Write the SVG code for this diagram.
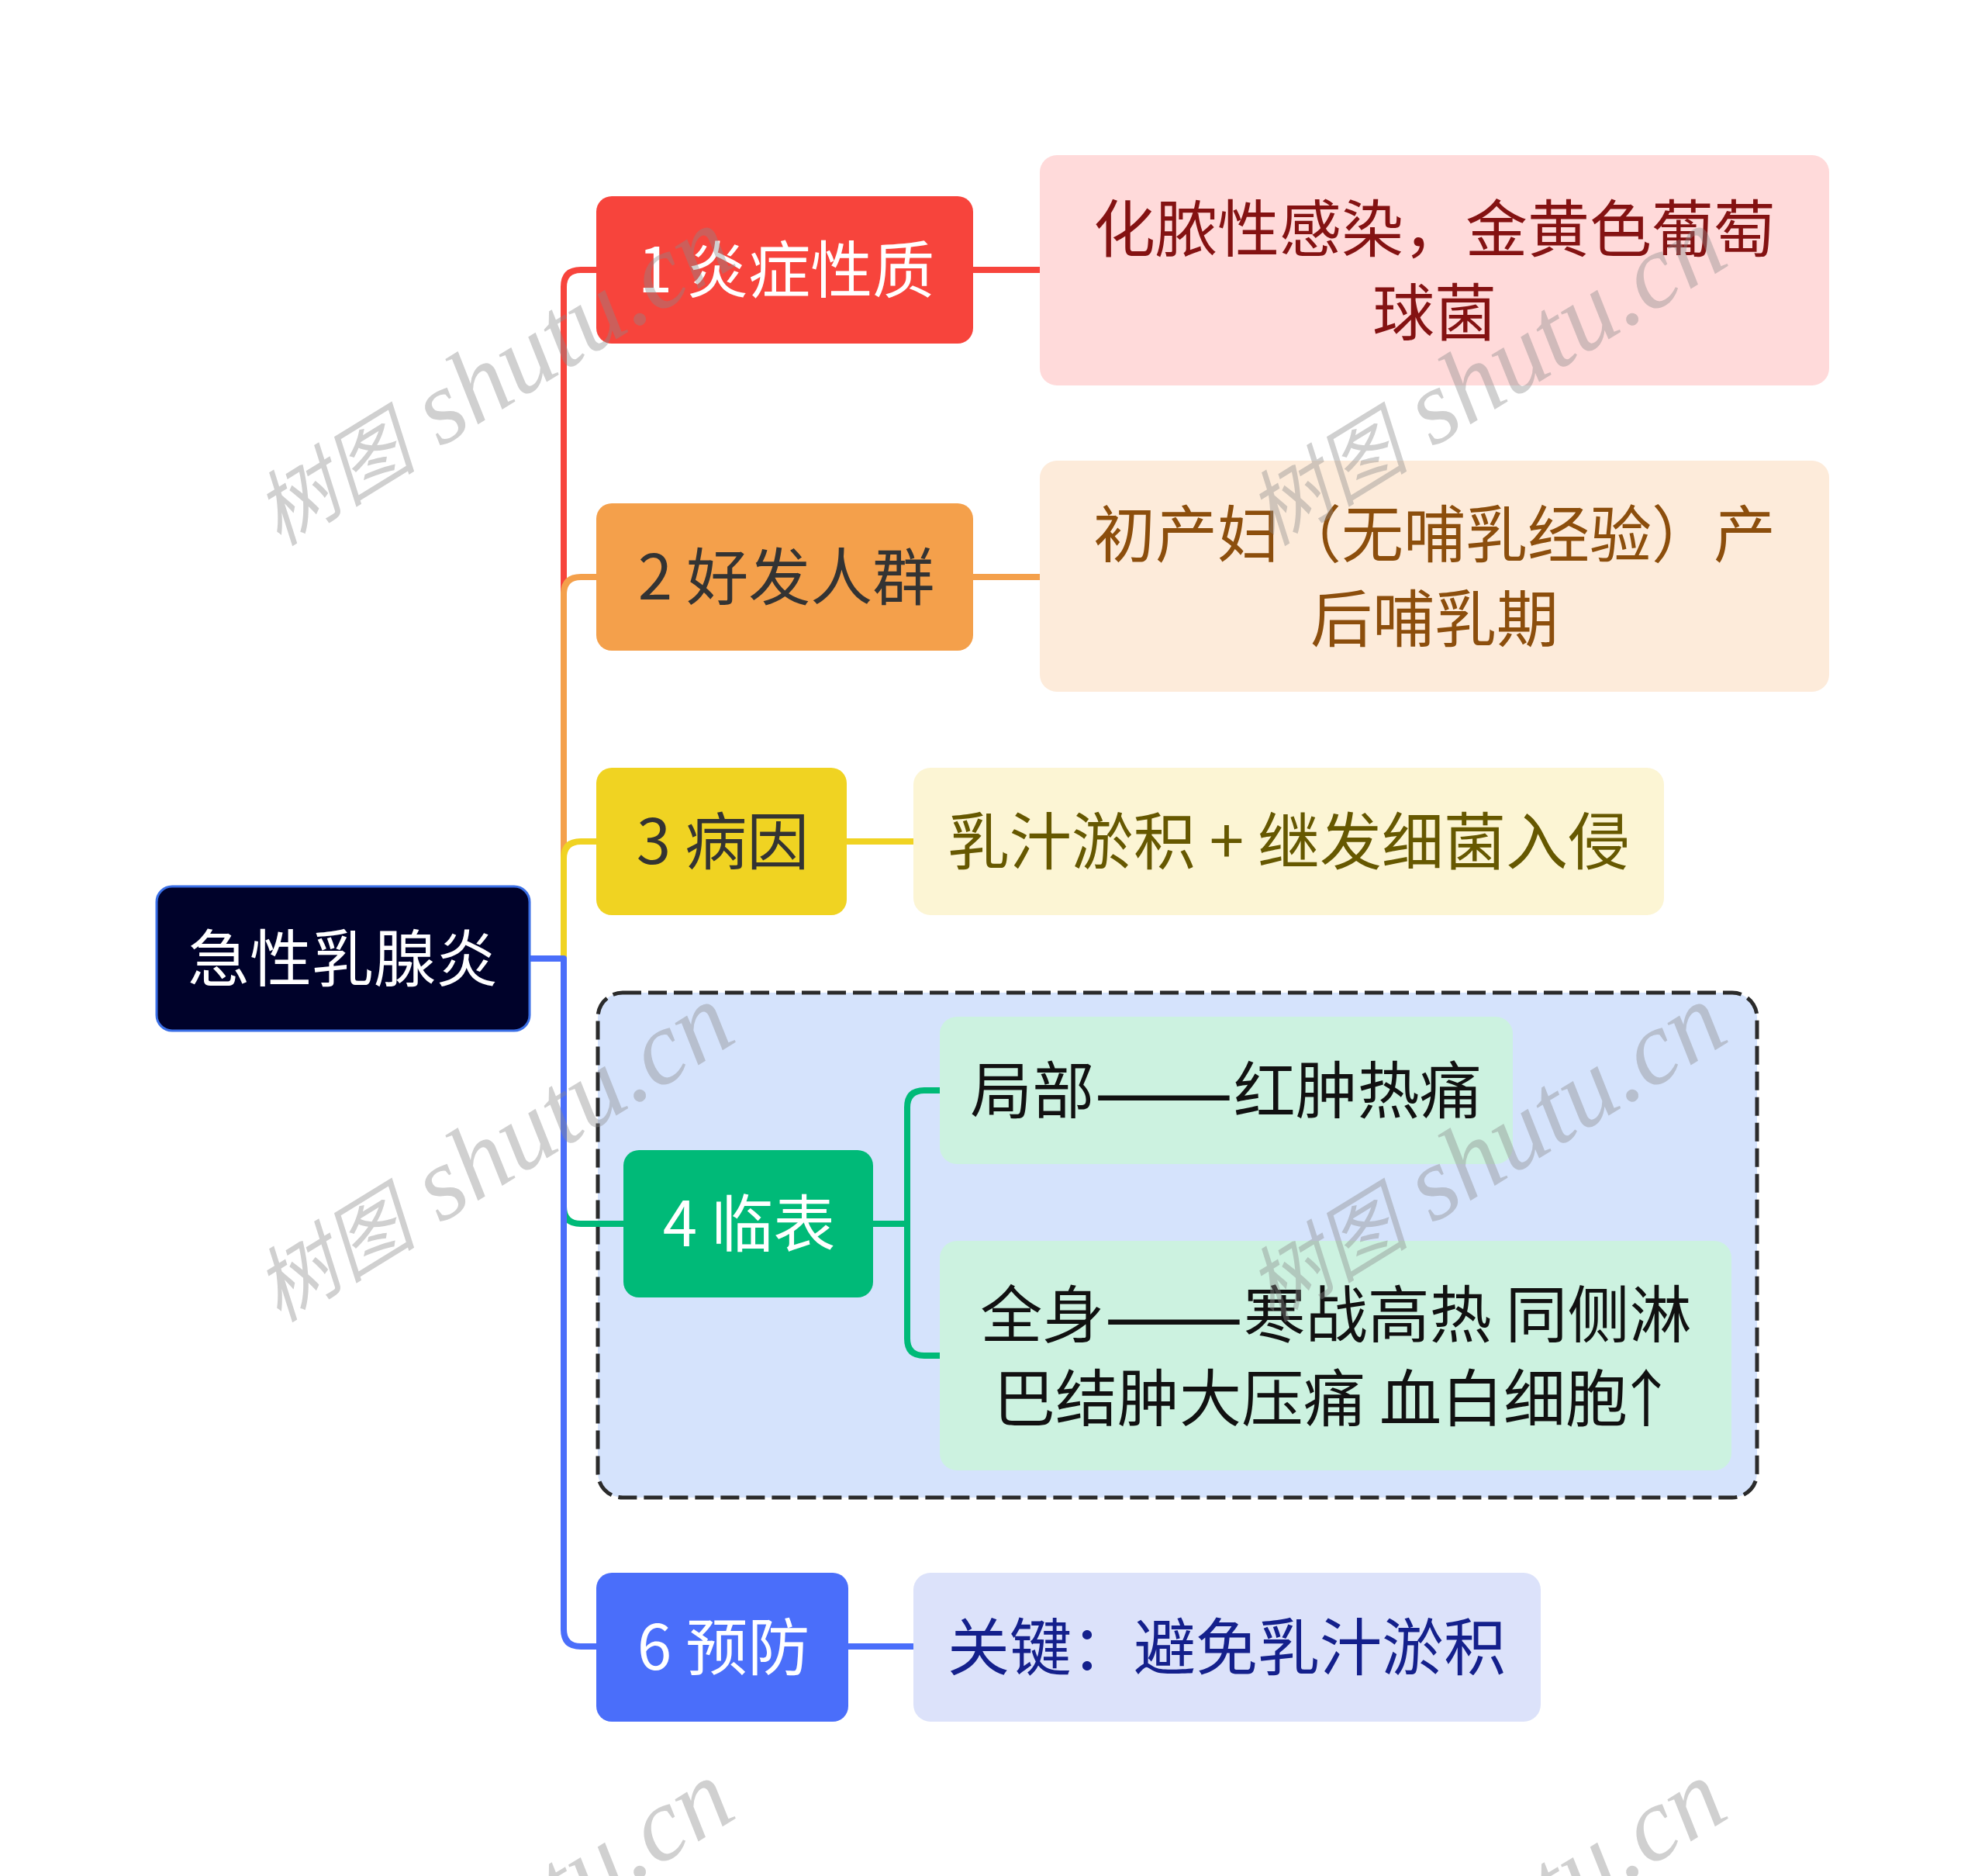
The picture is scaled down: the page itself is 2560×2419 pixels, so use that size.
<svg xmlns="http://www.w3.org/2000/svg" width="2560" height="2419" viewBox="0 0 2560 2419">
<style>
.t{font-family:"Noto Sans CJK SC","Liberation Sans",sans-serif;font-size:80px;text-anchor:middle}
.w{fill:#ffffff}
.d{fill:#333333}
.k{fill:#111111}
.dash{font-size:107px}
.ln{fill:none;stroke-width:8;stroke-linecap:butt;stroke-linejoin:round}
.wm{font-family:"Liberation Serif","Noto Sans CJK SC",serif;font-style:italic;font-size:135px;fill:#8a8a8a;fill-opacity:0.4}
.wc{font-family:"Noto Sans CJK SC",serif;font-size:105px}
</style>
<rect width="2560" height="2419" fill="#ffffff"/>
<g id="group-4-box">
<rect x="771" y="1280" width="1495" height="651" rx="32" fill="#D5E3FC" stroke="#2b2b2b" stroke-width="5" stroke-dasharray="24 9"/>
</g>
<g id="connectors">
<path class="ln" stroke="#F7443C" d="M727 1236 V370 Q727 348 749 348 H769 M1255 348 H1341"/>
<path class="ln" stroke="#F4A04B" d="M727 1236 V766 Q727 744 749 744 H769 M1255 744 H1341"/>
<path class="ln" stroke="#F0D322" d="M727 1236 V1107 Q727 1085 749 1085 H769 M1092 1085 H1178"/>
<path class="ln" stroke="#00BA78" d="M727 1236 V1556 Q727 1578 749 1578 H804 M1126 1578 H1170 M1212 1406 H1192 Q1170 1406 1170 1428 V1726 Q1170 1748 1192 1748 H1212"/>
<path class="ln" stroke="#4A6EFA" d="M684 1236 H727 V2101 Q727 2123 749 2123 H769 M1094 2123 H1178"/>
</g>
<g id="root">
<rect x="202" y="1143" width="481" height="186" rx="20" fill="#00022A" stroke="#3A6FE6" stroke-width="3"/>
<text class="t w" x="442" y="1265">急性乳腺炎</text>
</g>
<g id="node-1">
<rect x="769" y="253" width="486" height="190" rx="20" fill="#F7443C"/>
<text class="t w" x="1014" y="377">1 炎症性质</text>
</g>
<g id="leaf-1">
<rect x="1341" y="200" width="1018" height="297" rx="22" fill="#FFDADA"/>
<text class="t" fill="#841212" x="1850" y="324">化脓性感染，金黄色葡萄</text>
<text class="t" fill="#841212" x="1850" y="432">球菌</text>
</g>
<g id="node-2">
<rect x="769" y="649" width="486" height="190" rx="20" fill="#F4A04B"/>
<text class="t d" x="1014" y="773">2 好发人群</text>
</g>
<g id="leaf-2">
<rect x="1341" y="594" width="1018" height="298" rx="22" fill="#FDEBDA"/>
<text class="t" fill="#8C4E0C" x="1850" y="718">初产妇（无哺乳经验）产</text>
<text class="t" fill="#8C4E0C" x="1850" y="827">后哺乳期</text>
</g>
<g id="node-3">
<rect x="769" y="990" width="323" height="190" rx="20" fill="#F0D322"/>
<text class="t d" x="932" y="1114">3 病因</text>
</g>
<g id="leaf-3">
<rect x="1178" y="990" width="968" height="190" rx="22" fill="#FCF5D4"/>
<text class="t" fill="#665800" x="1662" y="1114">乳汁淤积 + 继发细菌入侵</text>
</g>
<g id="node-4">
<rect x="804" y="1483" width="322" height="190" rx="20" fill="#00BA78"/>
<text class="t w" x="966" y="1607">4 临表</text>
</g>
<g id="leaf-4a">
<rect x="1212" y="1311" width="739" height="190" rx="22" fill="#CCF2E0"/>
<text class="t k" x="1581" y="1435">局部<tspan class="dash" dy="11">——</tspan><tspan dy="-11">红肿热痛</tspan></text>
</g>
<g id="leaf-4b">
<rect x="1212" y="1600" width="1021" height="296" rx="22" fill="#CCF2E0"/>
<text class="t k" x="1723" y="1724">全身<tspan class="dash" dy="11">——</tspan><tspan dy="-11">寒战高热 同侧淋</tspan></text>
<text class="t k" x="1722" y="1832">巴结肿大压痛 血白细胞<tspan dx="-16">↑</tspan></text>
</g>
<g id="node-6">
<rect x="769" y="2028" width="325" height="192" rx="20" fill="#4A6EFA"/>
<text class="t w" x="933" y="2153">6 预防</text>
</g>
<g id="leaf-6">
<rect x="1178" y="2028" width="809" height="192" rx="22" fill="#DCE2FA"/>
<text class="t" fill="#14208C" x="1582" y="2153">关键：避免乳汁淤积</text>
</g>
<g id="watermarks">
<text class="wm" x="360" y="705" transform="rotate(-31.6 360 705)"><tspan class="wc">树图</tspan> shutu.cn</text>
<text class="wm" x="1640" y="705" transform="rotate(-31.6 1640 705)"><tspan class="wc">树图</tspan> shutu.cn</text>
<text class="wm" x="360" y="1706" transform="rotate(-31.6 360 1706)"><tspan class="wc">树图</tspan> shutu.cn</text>
<text class="wm" x="1640" y="1706" transform="rotate(-31.6 1640 1706)"><tspan class="wc">树图</tspan> shutu.cn</text>
<text class="wm" x="360" y="2707" transform="rotate(-31.6 360 2707)"><tspan class="wc">树图</tspan> shutu.cn</text>
<text class="wm" x="1640" y="2707" transform="rotate(-31.6 1640 2707)"><tspan class="wc">树图</tspan> shutu.cn</text>
</g>
</svg>
